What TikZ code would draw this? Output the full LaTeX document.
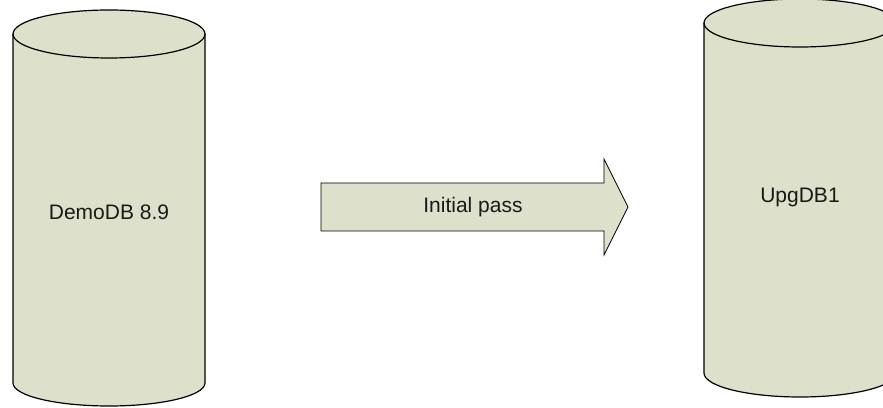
\documentclass[tikz,border=0pt]{standalone}
\usepackage{fontspec}
\setmainfont{Liberation Sans}
\definecolor{dbgreen}{RGB}{221,224,202}
\tikzset{
  dbshape/.style={draw=black, line width=1.2pt, fill=dbgreen},
  passarrow/.style={draw=black, line width=0.8pt, fill=dbgreen, line join=miter},
  dblabel/.style={font=\fontsize{21}{25}\selectfont, text=black!90}
}

\begin{document}
\begin{tikzpicture}[x=1pt, y=1pt]
        \useasboundingbox (0,0) rectangle (883,407);
        \clip (0,0) rectangle (883,407);

        %% DemoDB
        \draw[dbshape] (13,373) -- (13,24) arc (180:360:96 and 23) -- (205,373) arc (0:180:96 and 24) -- cycle;
        \draw[dbshape, fill=none] (13,373) arc (180:360:96 and 24);
        \node[dblabel] (demodb) at (109,195) {DemoDB 8.9};

        %% UpgDB1
        \draw[dbshape] (704,384) -- (704,34) arc (180:360:96 and 24) -- (896,384) arc (0:180:96 and 24) -- cycle;
        \draw[dbshape, fill=none] (704,384) arc (180:360:96 and 24);
        \node[dblabel] (upgdb) at (800,210) {UpgDB1};

        %% pass arrow
        \draw[passarrow] (321,176) -- (321,224) -- (604,224) -- (604,248) -- (628,200) -- (604,152) -- (604,176) -- cycle;
        \node[dblabel] (pass) at (473,200) {Initial pass};
\end{tikzpicture}
\end{document}
